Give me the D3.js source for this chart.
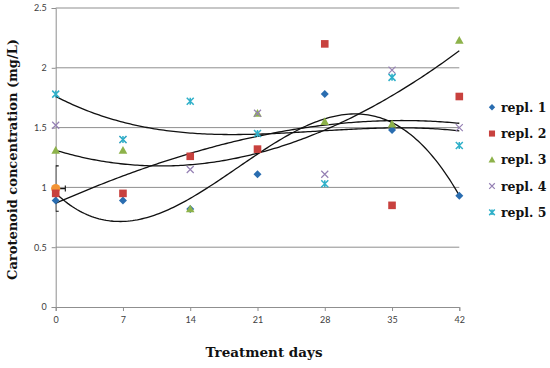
<!DOCTYPE html>
<html>
<head>
<meta charset="utf-8">
<script src="https://cdn.jsdelivr.net/npm/d3@7"></script>
<style>
  html, body { margin: 0; padding: 0; background: #fff; }
  svg { display: block; }
</style>
</head>
<body>
<svg id="chart" width="550" height="368"></svg>
<script>
// ---------------- data ----------------
const days = [0, 7, 14, 21, 28, 35, 42];
const seriesNames = ["repl. 1", "repl. 2", "repl. 3", "repl. 4", "repl. 5"];
const repl1 = [0.89, 0.89, 0.82, 1.11, 1.78, 1.48, 0.93];
const repl2 = [0.95, 0.95, 1.26, 1.32, 2.20, 0.85, 1.76];
const repl3 = [1.31, 1.31, 0.82, 1.62, 1.55, 1.53, 2.23];
const repl4 = [1.52, 1.40, 1.15, 1.62, 1.11, 1.98, 1.50];
const repl5 = [1.78, 1.40, 1.72, 1.45, 1.03, 1.92, 1.35];
// series that carry a 3rd-order polynomial trendline
const trendSeries = ["repl. 1", "repl. 2", "repl. 3", "repl. 5"];
// initial (day 0) reference point with error bars
const refDay = [0];
const refValue = [0.99];
const refValueErr = [0.19];
const refDayErr = [1];
const xTicks = [0, 7, 14, 21, 28, 35, 42];
const yTicks = [0, 0.5, 1, 1.5, 2, 2.5];
const yTickLabels = ["0", "0.5", "1", "1.5", "2", "2.5"];

const seriesValues = [repl1, repl2, repl3, repl4, repl5];
const colors = ["#2a6db0", "#c8413e", "#8db24a", "#9580b4", "#2fb0c9"];
const shapes = ["diamond", "square", "triangle", "x", "star"];

// ---------------- layout ----------------
const svg = d3.select("#chart");
const x = d3.scaleLinear().domain([0, 42]).range([55.7, 459.3]);
const y = d3.scaleLinear().domain([0, 2.5]).range([307, 8]);
const gridColor = "#8f8f8f";
const tickFont = "Lato, 'Liberation Sans', sans-serif";
const titleFont = "'DejaVu Serif', serif";

// gridlines
svg.append("g").selectAll("line").data(yTicks.filter(d => d > 0)).join("line")
  .attr("x1", x(0)).attr("x2", x(42))
  .attr("y1", d => y(d)).attr("y2", d => y(d))
  .attr("stroke", gridColor).attr("stroke-width", 1);

// axes
const yAxis = svg.append("g").attr("transform", `translate(${x(0)},0)`)
  .call(d3.axisLeft(y).tickValues(yTicks).tickSize(4).tickPadding(5)
    .tickFormat((d, i) => yTickLabels[i]));
const xAxis = svg.append("g").attr("transform", `translate(0,${y(0)})`)
  .call(d3.axisBottom(x).tickValues(xTicks).tickSize(4).tickPadding(6));
[yAxis, xAxis].forEach(a => {
  a.select(".domain").attr("stroke", gridColor).attr("stroke-width", 1);
  a.selectAll(".tick line").attr("stroke", gridColor);
  a.selectAll("text").attr("fill", "#404040").style("font-family", tickFont).style("font-size", "9px");
});

// clip to plot area
svg.append("clipPath").attr("id", "plotclip").append("rect")
  .attr("x", x(0)).attr("y", y(2.5) - 10).attr("width", x(42) - x(0) + 10).attr("height", y(0) - y(2.5) + 10);

// ---------------- trendlines (least-squares cubic fits) ----------------
function polyFit(xs, ys, order) {
  const n = order + 1;
  const A = Array.from({length: n}, () => new Array(n + 1).fill(0));
  for (let k = 0; k < xs.length; k++) {
    for (let i = 0; i < n; i++) {
      for (let j = 0; j < n; j++) A[i][j] += Math.pow(xs[k], i + j);
      A[i][n] += ys[k] * Math.pow(xs[k], i);
    }
  }
  for (let i = 0; i < n; i++) {
    let p = i;
    for (let r = i + 1; r < n; r++) if (Math.abs(A[r][i]) > Math.abs(A[p][i])) p = r;
    [A[i], A[p]] = [A[p], A[i]];
    for (let r = 0; r < n; r++) {
      if (r === i) continue;
      const f = A[r][i] / A[i][i];
      for (let c = i; c <= n; c++) A[r][c] -= f * A[i][c];
    }
  }
  return A.map((row, i) => row[n] / row[i]);
}
const lineGen = d3.line().x(d => x(d[0])).y(d => y(d[1]));
const gTrend = svg.append("g");
trendSeries.forEach(name => {
  const vals = seriesValues[seriesNames.indexOf(name)];
  const coef = polyFit(days, vals, 3);
  const pts = d3.range(0, 42.001, 0.25).map(t => [t, coef.reduce((s, c, i) => s + c * Math.pow(t, i), 0)]);
  gTrend.append("path").attr("d", lineGen(pts))
    .attr("fill", "none").attr("stroke", "#111").attr("stroke-width", 1.3);
});

// ---------------- markers ----------------
function drawMarker(g, shape, color, cx, cy, s) {
  if (shape === "diamond") {
    g.append("path").attr("d", `M${cx},${cy - s}L${cx + s},${cy}L${cx},${cy + s}L${cx - s},${cy}Z`).attr("fill", color);
  } else if (shape === "square") {
    g.append("rect").attr("x", cx - s).attr("y", cy - s).attr("width", 2 * s).attr("height", 2 * s).attr("fill", color);
  } else if (shape === "triangle") {
    g.append("path").attr("d", `M${cx},${cy - s}L${cx + s},${cy + s * 0.8}L${cx - s},${cy + s * 0.8}Z`).attr("fill", color);
  } else if (shape === "x") {
    g.append("path").attr("d", `M${cx - s},${cy - s}L${cx + s},${cy + s}M${cx - s},${cy + s}L${cx + s},${cy - s}`)
      .attr("stroke", color).attr("stroke-width", 1.2).attr("fill", "none");
  } else if (shape === "star") {
    g.append("path").attr("d", `M${cx - s},${cy - s}L${cx + s},${cy + s}M${cx - s},${cy + s}L${cx + s},${cy - s}M${cx},${cy - s}L${cx},${cy + s}`)
      .attr("stroke", color).attr("stroke-width", 1.5).attr("fill", "none");
  }
}
const sizes = {diamond: 4, square: 3.8, triangle: 4.3, x: 3.5, star: 3.5};

// reference point with error bars
const gRef = svg.append("g");
const gErr = gRef.append("g").attr("clip-path", "url(#plotclip)");
refDay.forEach((d, i) => {
  const cx = x(d), cy = y(refValue[i]);
  const yt = y(refValue[i] + refValueErr[i]), yb = y(refValue[i] - refValueErr[i]);
  const xr = x(d + refDayErr[i]), xl = x(d - refDayErr[i]);
  gErr.append("path").attr("d",
    `M${cx},${yt}L${cx},${yb}M${cx - 3},${yt}L${cx + 3},${yt}M${cx - 3},${yb}L${cx + 3},${yb}` +
    `M${xl},${cy}L${xr},${cy}M${xr},${cy - 3}L${xr},${cy + 3}M${xl},${cy - 3}L${xl},${cy + 3}`)
    .attr("stroke", "#111").attr("stroke-width", 1.1).attr("fill", "none");
  gRef.append("circle").attr("cx", cx).attr("cy", cy).attr("r", 4.6).attr("fill", "#f39434");
});

const gPts = svg.append("g");
seriesValues.forEach((vals, si) => {
  vals.forEach((v, i) => drawMarker(gPts, shapes[si], colors[si], x(days[i]), y(v), sizes[shapes[si]]));
});

// ---------------- titles ----------------
svg.append("text").attr("x", 264).attr("y", 357).attr("text-anchor", "middle")
  .style("font-family", titleFont).style("font-weight", "bold").style("font-size", "13.5px").attr("fill", "#111")
  .text("Treatment days");
svg.append("text").attr("transform", "translate(17,159.5) rotate(-90)").attr("text-anchor", "middle")
  .style("font-family", titleFont).style("font-weight", "bold").style("font-size", "13px").attr("fill", "#111")
  .text("Carotenoid concentration (mg/L)");

// ---------------- legend ----------------
const legend = svg.append("g");
seriesNames.forEach((name, i) => {
  const ly = 107.3 + i * 26.25;
  drawMarker(legend, shapes[i], colors[i], 492, ly, sizes[shapes[i]] * 0.8);
  legend.append("text").attr("x", 501).attr("y", ly + 4.5)
    .style("font-family", titleFont).style("font-weight", "bold").style("font-size", "12.5px").attr("fill", "#111")
    .text(name);
});
</script>
</body>
</html>
